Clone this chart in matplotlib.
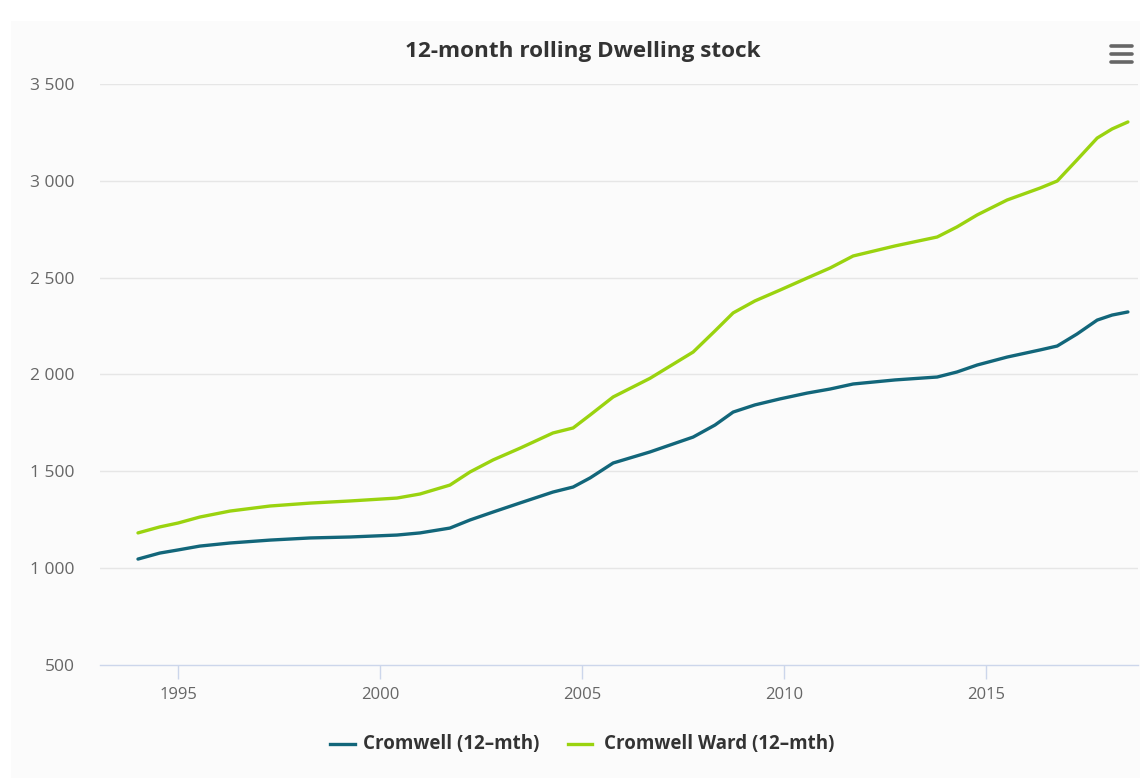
import matplotlib
matplotlib.use("Agg")
import matplotlib.pyplot as plt
from matplotlib.patches import Rectangle
from matplotlib.lines import Line2D
from matplotlib.ticker import FuncFormatter, FixedLocator

plt.rcParams['font.family'] = ['Open Sans', 'DejaVu Sans']

# Dwelling stock, 12-month rolling
cromwell_years = [1994.01, 1994.55, 1995.00, 1995.54, 1996.29, 1997.28, 1998.27, 1999.26,
                  2000.42, 2000.99, 2001.73, 2002.23, 2002.80, 2003.47, 2004.28, 2004.78,
                  2005.20, 2005.77, 2006.68, 2007.75, 2008.29, 2008.74, 2009.28, 2009.90,
                  2010.57, 2011.14, 2011.71, 2012.75, 2013.79, 2014.28, 2014.78, 2015.52,
                  2016.34, 2016.76, 2017.25, 2017.75, 2018.12, 2018.51]
cromwell_values = [1047, 1078, 1094, 1114, 1130, 1145, 1156, 1161,
                   1171, 1182, 1207, 1249, 1290, 1337, 1393, 1419,
                   1466, 1543, 1600, 1677, 1739, 1806, 1843, 1874,
                   1904, 1925, 1951, 1972, 1987, 2013, 2049, 2090,
                   2127, 2147, 2209, 2281, 2307, 2323]
ward_values = [1182, 1213, 1233, 1264, 1295, 1321, 1336, 1347,
               1362, 1383, 1429, 1497, 1559, 1620, 1698, 1724,
               1791, 1884, 1980, 2116, 2225, 2318, 2380, 2436,
               2498, 2550, 2612, 2664, 2710, 2762, 2824, 2901,
               2963, 2999, 3108, 3221, 3268, 3304]

series_names = ["Cromwell (12–mth)", "Cromwell Ward (12–mth)"]
series_colors = ["#12667a", "#9ad30f"]
x_ticks = [1995, 2000, 2005, 2010, 2015]
y_ticks = [500, 1000, 1500, 2000, 2500, 3000, 3500]

W, H = 1140, 778
fig = plt.figure(figsize=(W / 100, H / 100), dpi=100)
fig.patch.set_facecolor("white")
fig.patches.append(Rectangle((11 / W, 0), 1 - 11 / W, 1 - 21 / H,
                             transform=fig.transFigure, facecolor="#fbfbfb",
                             edgecolor="none", zorder=-10))

ax = fig.add_axes([100 / W, 1 - 665 / H, 1038 / W, (665 - 84) / H])
ax.patch.set_alpha(0)

ax.plot(cromwell_years, cromwell_values, color=series_colors[0], lw=2.4,
        solid_joinstyle="round", solid_capstyle="round", zorder=3)
ax.plot(cromwell_years, ward_values, color=series_colors[1], lw=2.4,
        solid_joinstyle="round", solid_capstyle="round", zorder=3)

ax.set_xlim(1993.07, 2018.76)
ax.set_ylim(500, 3500)

ax.yaxis.set_major_locator(FixedLocator(y_ticks))
ax.xaxis.set_major_locator(FixedLocator(x_ticks))
ax.yaxis.set_major_formatter(FuncFormatter(lambda v, p: f"{int(v):,}".replace(",", " ")))

for v in y_ticks[1:]:
    ax.axhline(v, color="#e6e6e6", lw=1, zorder=1)

for s in ["top", "right", "left"]:
    ax.spines[s].set_visible(False)
ax.spines["bottom"].set_color("#ccd6eb")
ax.spines["bottom"].set_linewidth(1)

ax.tick_params(axis="y", length=0, pad=18, labelsize=12.5, labelcolor="#666666")
ax.tick_params(axis="x", length=10, width=1, color="#ccd6eb", direction="out",
               pad=6, labelsize=12, labelcolor="#666666")

fig.text(583 / W, 1 - 51 / H, "12-month rolling Dwelling stock", ha="center", va="center",
         fontsize=16.2, fontweight="bold", color="#333333")

# legend
ly = 1 - 744 / H
items = [(330, 355, 363), (568, 592, 604)]
for (x0, x1, xt), name, col in zip(items, series_names, series_colors):
    fig.lines.append(Line2D([x0 / W, x1 / W], [ly, ly], transform=fig.transFigure,
                            color=col, lw=2.4))
    fig.text(xt / W, ly, name, ha="left", va="center", fontsize=13.5,
             fontweight="bold", color="#333333")

# context menu icon
for yy in (46, 54, 62):
    fig.lines.append(Line2D([1111 / W, 1132 / W], [1 - yy / H, 1 - yy / H],
                            transform=fig.transFigure, color="#666666", lw=2.6,
                            solid_capstyle="round"))

fig.savefig("out.png", dpi=100, facecolor=fig.get_facecolor())
